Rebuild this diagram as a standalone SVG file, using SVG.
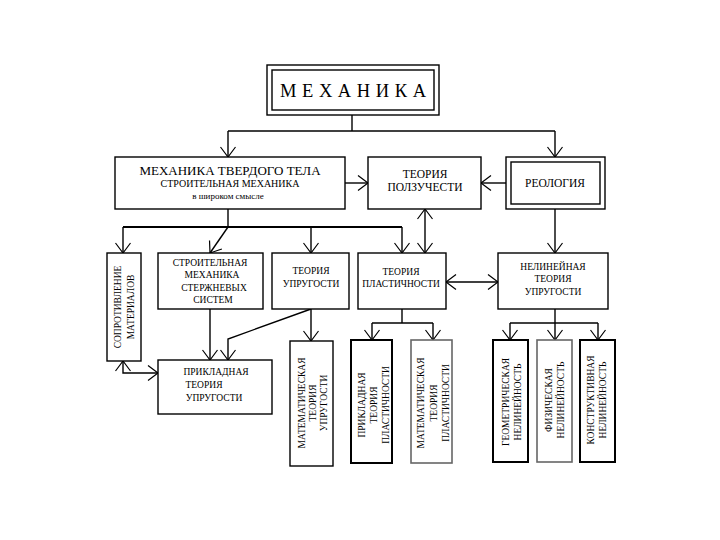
<svg xmlns="http://www.w3.org/2000/svg" width="720" height="540" viewBox="0 0 720 540">
<style>
  .box{fill:#fff;stroke:#000;stroke-width:1.4}
  .thick{fill:#fff;stroke:#000;stroke-width:2}
  .gray{fill:#fff;stroke:#666;stroke-width:1.6}
  .c{fill:none;stroke:#000;stroke-width:1.4}
  text{font-family:"Liberation Serif","Times New Roman",serif;fill:#000;text-anchor:middle}
  .t9{font-size:9.5px}
  .t11{font-size:11.5px}
</style>
<defs>
  <marker id="a" markerUnits="userSpaceOnUse" markerWidth="14" markerHeight="18" refX="11" refY="9" orient="auto-start-reverse">
    <path d="M1,1.5 L11,9 L1,16.5" fill="none" stroke="#000" stroke-width="1.2"/>
  </marker>
</defs>
<rect width="720" height="540" fill="#fff"/>

<g id="connectors">
  <path class="c" d="M352,114 V131"/>
  <path class="c" d="M228,131 H555"/>
  <path class="c" d="M228,131 V157" marker-end="url(#a)"/>
  <path class="c" d="M555,131 V157" marker-end="url(#a)"/>
  <path class="c" d="M345,183 H368" marker-end="url(#a)"/>
  <path class="c" d="M506,183 H481" marker-end="url(#a)"/>
  <path class="c" d="M228,209 V227"/>
  <path class="c" d="M123,227 H402" style="stroke-width:1.8"/>
  <path class="c" d="M123,227 V253" marker-end="url(#a)"/>
  <path class="c" d="M228,227 L210,253" marker-end="url(#a)"/>
  <path class="c" d="M311,227 V253" marker-end="url(#a)"/>
  <path class="c" d="M402,227 V253" marker-end="url(#a)"/>
  <path class="c" d="M425,209 V253" marker-start="url(#a)" marker-end="url(#a)"/>
  <path class="c" d="M555,209 V253" marker-end="url(#a)"/>
  <path class="c" d="M446,282 H498" marker-start="url(#a)" marker-end="url(#a)"/>
  <path class="c" d="M210,309 V360" marker-end="url(#a)"/>
  <path class="c" d="M311,309 L228,339 V360" marker-end="url(#a)"/>
  <path class="c" d="M311,309 V341" marker-end="url(#a)"/>
  <path class="c" d="M123,361 V373 H158" marker-start="url(#a)" marker-end="url(#a)"/>
  <path class="c" d="M402,309 V323"/>
  <path class="c" d="M372,323 H433"/>
  <path class="c" d="M372,323 V340" marker-end="url(#a)"/>
  <path class="c" d="M433,323 V340" marker-end="url(#a)"/>
  <path class="c" d="M555,309 V323"/>
  <path class="c" d="M510,323 H598"/>
  <path class="c" d="M510,323 V340" marker-end="url(#a)"/>
  <path class="c" d="M555,323 V340" marker-end="url(#a)"/>
  <path class="c" d="M598,323 V340" marker-end="url(#a)"/>
</g>

<g id="mechanics">
  <rect class="box" x="267" y="65" width="172" height="50"/>
  <rect class="box" x="272" y="70" width="162" height="40"/>
  <text x="280" y="97" style="font-size:18.5px;text-anchor:start" textLength="146" lengthAdjust="spacing">МЕХАНИКА</text>
</g>

<g id="solid">
  <rect class="box" x="115" y="157" width="230" height="52"/>
  <text x="230" y="175" style="font-size:13px">МЕХАНИКА ТВЕРДОГО ТЕЛА</text>
  <text x="230" y="187" style="font-size:10px">СТРОИТЕЛЬНАЯ МЕХАНИКА</text>
  <text x="228" y="199" style="font-size:9px">в широком смысле</text>
</g>

<g id="creep">
  <rect class="box" x="368" y="157" width="113" height="52"/>
  <text class="t11" x="425" y="178">ТЕОРИЯ</text>
  <text class="t11" x="425" y="191">ПОЛЗУЧЕСТИ</text>
</g>

<g id="rheology">
  <rect class="box" x="506" y="157" width="99" height="52"/>
  <rect class="box" x="511" y="162" width="89" height="42"/>
  <text class="t11" x="555" y="187">РЕОЛОГИЯ</text>
</g>

<g id="strength">
  <rect class="box" x="107" y="253" width="34" height="108"/>
  <text class="t9" transform="translate(121,307) rotate(-90)">СОПРОТИВЛЕНИЕ</text>
  <text class="t9" transform="translate(134,307) rotate(-90)">МАТЕРИАЛОВ</text>
</g>

<g id="rods">
  <rect class="box" x="158" y="253" width="105" height="56"/>
  <text class="t9" x="210" y="266">СТРОИТЕЛЬНАЯ</text>
  <text class="t9" x="212" y="278">МЕХАНИКА</text>
  <text class="t9" x="214" y="291">СТЕРЖНЕВЫХ</text>
  <text class="t9" x="213" y="303">СИСТЕМ</text>
</g>

<g id="elasticity">
  <rect class="box" x="272" y="253" width="77" height="56"/>
  <text class="t9" x="311" y="274">ТЕОРИЯ</text>
  <text class="t9" x="311" y="287">УПРУГОСТИ</text>
</g>

<g id="plasticity">
  <rect class="box" x="358" y="253" width="88" height="56"/>
  <text class="t9" x="401" y="275">ТЕОРИЯ</text>
  <text class="t9" x="401" y="287">ПЛАСТИЧНОСТИ</text>
</g>

<g id="nonlinear">
  <rect class="box" x="498" y="253" width="110" height="56"/>
  <text class="t9" x="553" y="270">НЕЛИНЕЙНАЯ</text>
  <text class="t9" x="553" y="282">ТЕОРИЯ</text>
  <text class="t9" x="553" y="295">УПРУГОСТИ</text>
</g>

<g id="applied-elasticity">
  <rect class="box" x="158" y="360" width="114" height="54"/>
  <text class="t9" x="216" y="375">ПРИКЛАДНАЯ</text>
  <text class="t9" x="204" y="388">ТЕОРИЯ</text>
  <text class="t9" x="214" y="401">УПРУГОСТИ</text>
</g>

<g id="math-elasticity">
  <rect class="box" x="290" y="341" width="43" height="125"/>
  <text class="t9" transform="translate(305,403) rotate(-90)">МАТЕМАТИЧЕСКАЯ</text>
  <text class="t9" transform="translate(316,403) rotate(-90)">ТЕОРИЯ</text>
  <text class="t9" transform="translate(327,403) rotate(-90)">УПРУГОСТИ</text>
</g>

<g id="applied-plasticity">
  <rect class="thick" x="351" y="340" width="41" height="123"/>
  <text class="t9" transform="translate(365,405) rotate(-90)">ПРИКЛАДНАЯ</text>
  <text class="t9" transform="translate(377,405) rotate(-90)">ТЕОРИЯ</text>
  <text class="t9" transform="translate(389,405) rotate(-90)">ПЛАСТИЧНОСТИ</text>
</g>

<g id="math-plasticity">
  <rect class="gray" x="411" y="340" width="41" height="123"/>
  <text class="t9" transform="translate(424,403) rotate(-90)">МАТЕМАТИЧЕСКАЯ</text>
  <text class="t9" transform="translate(437,403) rotate(-90)">ТЕОРИЯ</text>
  <text class="t9" transform="translate(449,403) rotate(-90)">ПЛАСТИЧНОСТИ</text>
</g>

<g id="geometric">
  <rect class="thick" x="493" y="340" width="35" height="122"/>
  <text class="t9" transform="translate(509,402) rotate(-90)">ГЕОМЕТРИЧЕСКАЯ</text>
  <text class="t9" transform="translate(521,402) rotate(-90)">НЕЛИНЕЙНОСТЬ</text>
</g>

<g id="physical">
  <rect class="gray" x="537" y="340" width="35" height="122"/>
  <text class="t9" transform="translate(552,400) rotate(-90)">ФИЗИЧЕСКАЯ</text>
  <text class="t9" transform="translate(564,400) rotate(-90)">НЕЛИНЕЙНОСТЬ</text>
</g>

<g id="structural">
  <rect class="thick" x="580" y="340" width="35" height="122"/>
  <text class="t9" transform="translate(594,400) rotate(-90)">КОНСТРУКТИВНАЯ</text>
  <text class="t9" transform="translate(606,400) rotate(-90)">НЕЛИНЕЙНОСТЬ</text>
</g>
</svg>
